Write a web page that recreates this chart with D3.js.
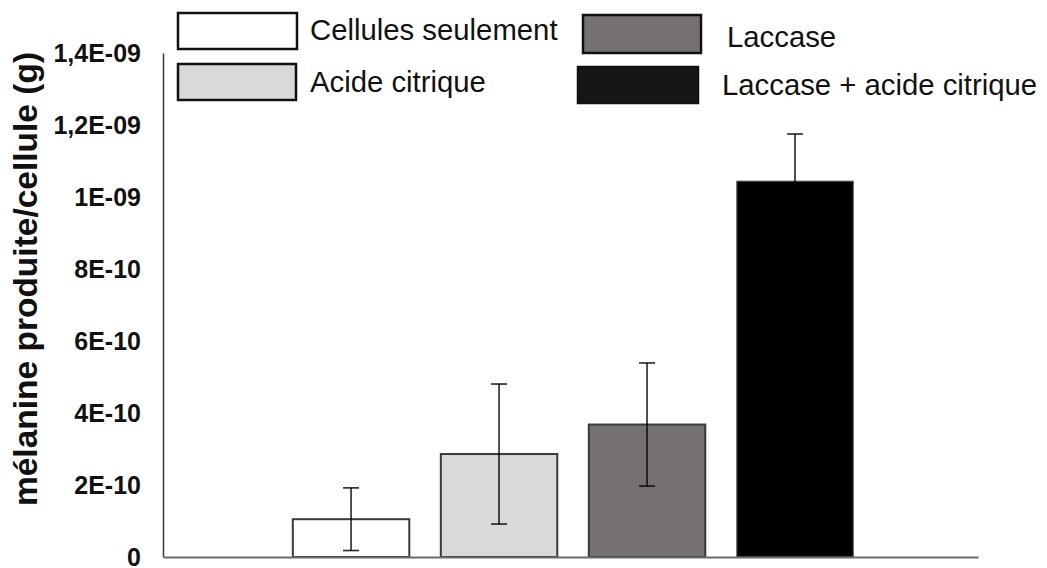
<!DOCTYPE html>
<html>
<head>
<meta charset="utf-8">
<script src="https://cdn.jsdelivr.net/npm/d3@7"></script>
<style>
  html, body { margin: 0; padding: 0; background: #fff; }
  svg { display: block; font-family: "Liberation Sans", Arial, sans-serif; }
</style>
</head>
<body>
<svg id="chart" width="1047" height="568"></svg>
<script>
// Treatments and measured melanin per cell (g), with error bar half-widths
const categories = ["Cellules seulement", "Acide citrique", "Laccase", "Laccase + acide citrique"];
const values = [1.05e-10, 2.86e-10, 3.68e-10, 1.044e-9];
const errors = [0.87e-10, 1.945e-10, 1.71e-10, 1.31e-10];
const tickValues = [0, 2e-10, 4e-10, 6e-10, 8e-10, 1e-9, 1.2e-9, 1.4e-9];
const tickLabels = ["0", "2E-10", "4E-10", "6E-10", "8E-10", "1E-09", "1,2E-09", "1,4E-09"];
const yTitle = "mélanine produite/cellule (g)";

const fills = ["#ffffff", "#d9d9d9", "#767171", "#000000"];
const legendFills = ["#ffffff", "#d9d9d9", "#767171", "#161616"];

const svg = d3.select("#chart");

// Plot area
const x0 = 163, x1 = 978, yTop = 53, yBottom = 557;

const x = d3.scaleBand()
  .domain(categories)
  .range([x0, x1])
  .paddingInner(0.213)
  .paddingOuter(0.86)
  .align(0.51);

const y = d3.scaleLinear()
  .domain([0, 1.4e-9])
  .range([yBottom, yTop]);

// Bars
svg.append("g").selectAll("rect")
  .data(categories)
  .join("rect")
  .attr("x", d => x(d))
  .attr("y", (d, i) => y(values[i]))
  .attr("width", x.bandwidth())
  .attr("height", (d, i) => y(0) - y(values[i]))
  .attr("fill", (d, i) => fills[i])
  .attr("stroke", (d, i) => i === 3 ? "#555" : "#3a3a3a")
  .attr("stroke-width", (d, i) => i === 3 ? 1 : 2);

// Error bars (black, so the lower whisker vanishes inside the black bar)
const capHalf = 8;
const eb = svg.append("g")
  .attr("stroke", "#000")
  .attr("stroke-width", 1.6)
  .attr("stroke-opacity", 0.85)
  .attr("fill", "none");
categories.forEach((c, i) => {
  const cx = x(c) + x.bandwidth() / 2;
  const hi = y(values[i] + errors[i]);
  const lo = y(values[i] - errors[i]);
  eb.append("line").attr("x1", cx).attr("x2", cx).attr("y1", hi).attr("y2", lo);
  eb.append("line").attr("x1", cx - capHalf).attr("x2", cx + capHalf).attr("y1", hi).attr("y2", hi);
  eb.append("line").attr("x1", cx - capHalf).attr("x2", cx + capHalf).attr("y1", lo).attr("y2", lo);
});

// Y axis
const yAxis = d3.axisLeft(y)
  .tickValues(tickValues)
  .tickSize(0)
  .tickPadding(22)
  .tickFormat((d, i) => tickLabels[i]);

const gy = svg.append("g")
  .attr("transform", `translate(${x0},0)`)
  .call(yAxis);
gy.select(".domain").attr("stroke", "#3a3a3a").attr("stroke-width", 1.5);
gy.selectAll(".tick text")
  .attr("font-family", "Liberation Sans, Arial, sans-serif")
  .attr("font-size", 25)
  .attr("font-weight", "bold")
  .attr("fill", "#111");

// X axis baseline
const xAxis = d3.axisBottom(x).tickSize(0).tickFormat("");
const gx = svg.append("g")
  .attr("transform", `translate(0,${yBottom})`)
  .call(xAxis);
gx.select(".domain").attr("stroke", "#6a6a6a").attr("stroke-width", 2);
gx.selectAll(".tick").remove();

// Y axis title
svg.append("text")
  .attr("transform", `translate(37,${(54 + 504) / 2}) rotate(-90)`)
  .attr("text-anchor", "middle")
  .attr("font-size", 33.5)
  .attr("font-weight", "bold")
  .attr("fill", "#111")
  .text(yTitle);

// Legend
const legendLayout = [
  { bx: 178, by: 13, bw: 119, bh: 36, tx: 310, ty: 40 },
  { bx: 178, by: 64, bw: 118, bh: 36, tx: 310, ty: 92 },
  { bx: 583, by: 15, bw: 118, bh: 38, tx: 727, ty: 47 },
  { bx: 578, by: 67, bw: 120, bh: 36, tx: 722, ty: 95 }
];
const lg = svg.append("g");
categories.forEach((c, i) => {
  const L = legendLayout[i];
  lg.append("rect")
    .attr("x", L.bx).attr("y", L.by)
    .attr("width", L.bw).attr("height", L.bh)
    .attr("fill", legendFills[i])
    .attr("stroke", "#111")
    .attr("stroke-width", 2.5);
  lg.append("text")
    .attr("x", L.tx).attr("y", L.ty)
    .attr("font-size", 29.3)
    .attr("fill", "#111")
    .text(c);
});
</script>
</body>
</html>
